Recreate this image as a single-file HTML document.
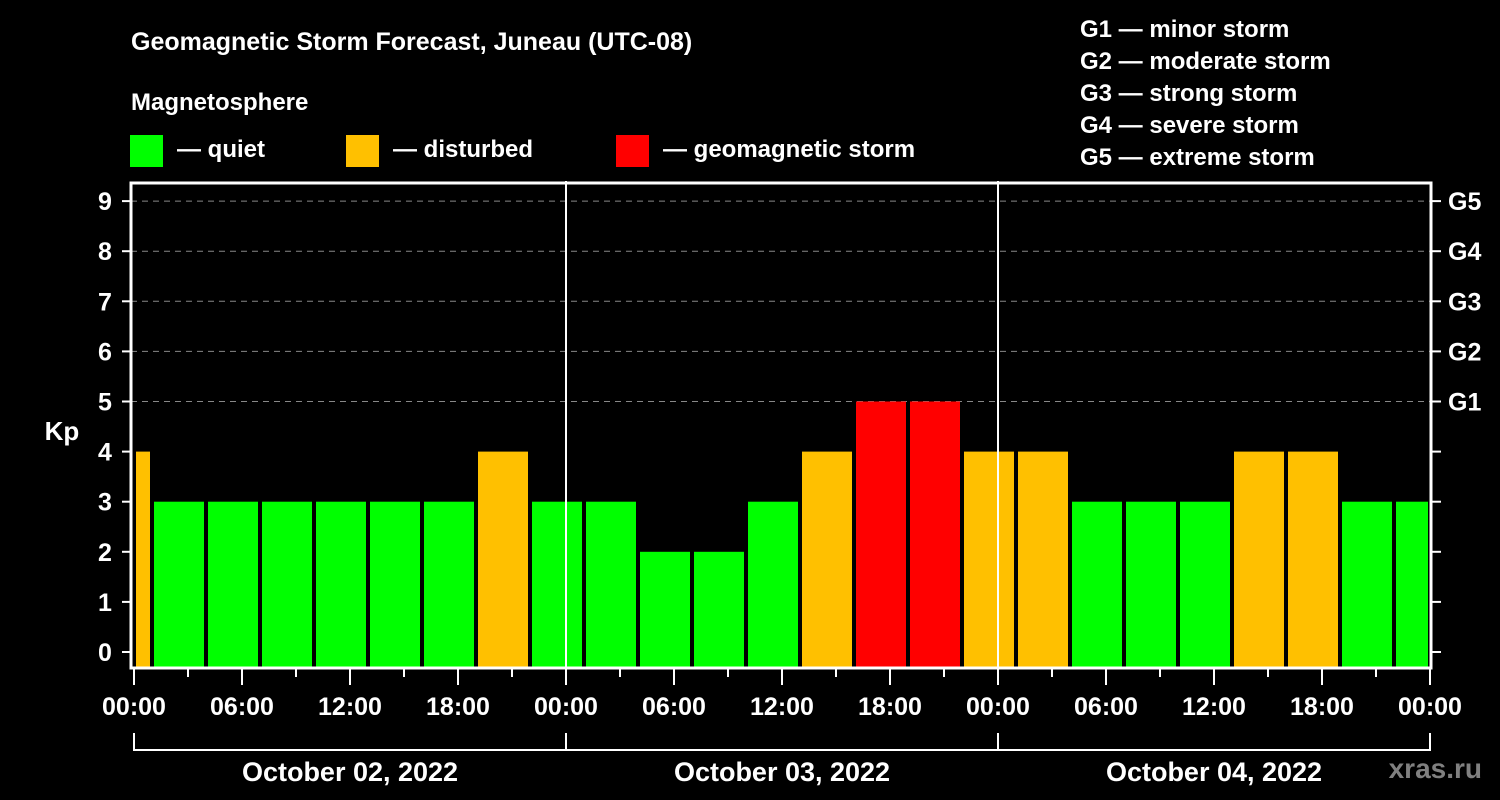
<!DOCTYPE html>
<html><head><meta charset="utf-8">
<style>
html,body{margin:0;padding:0;background:#000;}
svg{display:block;font-family:"Liberation Sans",sans-serif;font-weight:bold;}
</style></head>
<body>
<svg id="chart" width="1500" height="800" viewBox="0 0 1500 800" xmlns="http://www.w3.org/2000/svg">
<rect width="1500" height="800" fill="#000"/>
<text x="131" y="50" fill="#fff" font-size="25">Geomagnetic Storm Forecast, Juneau (UTC-08)</text>
<text x="131" y="110" fill="#fff" font-size="24">Magnetosphere</text>
<g>
<rect x="130" y="135" width="33" height="32" fill="#00ff00"/>
<text x="177" y="157" fill="#fff" font-size="24">— quiet</text></g>
<g>
<rect x="346" y="135" width="33" height="32" fill="#ffc000"/>
<text x="393" y="157" fill="#fff" font-size="24">— disturbed</text></g>
<g>
<rect x="616" y="135" width="33" height="32" fill="#ff0000"/>
<text x="663" y="157" fill="#fff" font-size="24">— geomagnetic storm</text></g>
<g fill="#fff" font-size="24">
<text x="1080" y="37">G1 — minor storm</text>
<text x="1080" y="69">G2 — moderate storm</text>
<text x="1080" y="101">G3 — strong storm</text>
<text x="1080" y="133">G4 — severe storm</text>
<text x="1080" y="165">G5 — extreme storm</text>
</g>
<text x="62" y="440" fill="#fff" font-size="26" text-anchor="middle">Kp</text>
<text x="1482" y="778" fill="#808080" font-size="28" text-anchor="end">xras.ru</text>
<g id="grid"></g><g id="bars"></g><g id="axes"></g>
</svg>
<script>
const kpValues=[4,3,3,3,3,3,3,4,3,3,2,2,3,4,5,5,4,4,3,3,3,4,4,3,3];
const yTicks=[0,1,2,3,4,5,6,7,8,9];
const gLabels=["G1","G2","G3","G4","G5"];
const gLevels=[5,6,7,8,9];
const xTickLabels=["00:00","06:00","12:00","18:00","00:00","06:00","12:00","18:00","00:00","06:00","12:00","18:00","00:00"];
const dayLabels=["October 02, 2022","October 03, 2022","October 04, 2022"];
const NS="http://www.w3.org/2000/svg";
const X0=134, HOUR=18, PL=131, PR=1431, PT=183, PB=668;
function x(h){return X0+h*HOUR;}
function y(v){return 652-v*50.1;}
function el(t,a,p){const e=document.createElementNS(NS,t);for(const k in a)e.setAttribute(k,a[k]);p.appendChild(e);return e;}
function color(v){return v>=5?"#ff0000":(v>=4?"#ffc000":"#00ff00");}
const grid=document.getElementById('grid'),bars=document.getElementById('bars'),axes=document.getElementById('axes');
yTicks.forEach(v=>{if(v>=5){const l=el('line',{x1:PL,x2:PR,y1:y(v),y2:y(v),stroke:'#888','stroke-dasharray':'6,5','stroke-width':1},grid);

}});
kpValues.forEach((v,i)=>{
 const s=-2+3*i; let a=x(s)+2, b=x(s+3)-2;
 a=Math.max(a,x(0)+2); b=Math.min(b,x(72)-2);
 const r=el('rect',{x:a,y:y(v),width:b-a,height:PB-y(v),fill:color(v)},bars);
 
 
});
// day separators
[24,48].forEach(h=>{const l=el('line',{x1:x(h),x2:x(h),y1:181,y2:PB,stroke:'#fff','stroke-width':2},axes);

});
const fr=el('rect',{x:PL,y:PT,width:PR-PL,height:PB-PT,fill:'none',stroke:'#fff','stroke-width':3},axes);


yTicks.forEach(v=>{
 el('line',{x1:122,x2:PL,y1:y(v),y2:y(v),stroke:'#fff','stroke-width':2},axes);
 el('line',{x1:PR,x2:1441,y1:y(v),y2:y(v),stroke:'#fff','stroke-width':2},axes);
 const t=el('text',{x:105,y:y(v)+9,fill:'#fff','font-size':25,'text-anchor':'middle'},axes);t.textContent=v;
 
 
});
gLabels.forEach((g,i)=>{const t=el('text',{x:1448,y:y(gLevels[i])+9,fill:'#fff','font-size':25},axes);t.textContent=g;
 
 });
for(let h=0;h<=72;h+=3){const major=h%6===0;el('line',{x1:x(h),x2:x(h),y1:PB,y2:PB+(major?17:9),stroke:'#fff','stroke-width':2},axes);}
xTickLabels.forEach((s,i)=>{const t=el('text',{x:x(i*6),y:715,fill:'#fff','font-size':25,'text-anchor':'middle'},axes);t.textContent=s;
 
 });
el('line',{x1:x(0),x2:x(72),y1:750,y2:750,stroke:'#fff','stroke-width':2},axes);
[0,24,48,72].forEach(h=>el('line',{x1:x(h),x2:x(h),y1:733,y2:751,stroke:'#fff','stroke-width':2},axes));
dayLabels.forEach((d,i)=>{const t=el('text',{x:x(i*24+12),y:781,fill:'#fff','font-size':27,'text-anchor':'middle'},axes);t.textContent=d;
 
 });
</script>
</body></html>
